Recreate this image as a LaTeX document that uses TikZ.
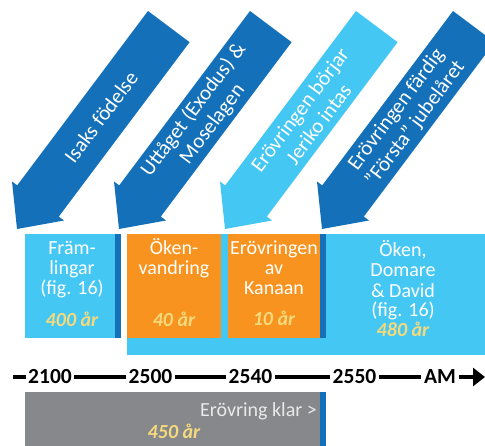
\documentclass[tikz,border=0pt]{standalone}
\usepackage{fontspec}
\setmainfont{Carlito}
\usetikzlibrary{arrows.meta}
\definecolor{dkblue}{HTML}{1470B8}
\definecolor{ltblue}{HTML}{45C7F3}
\definecolor{orng}{HTML}{F7931E}
\definecolor{gry}{HTML}{87888B}
\definecolor{gold}{HTML}{F4DA7C}
\definecolor{paleg}{HTML}{E9E9EA}
\tikzset{
  arrtext/.style={text=white, font=\fontsize{21}{23.5}\selectfont, align=center, rotate=53.13, inner sep=0pt},
  boxtext/.style={text=white, font=\fontsize{20}{20.5}\selectfont, inner sep=0pt, anchor=base},
  yrs/.style={text=gold, font=\fontsize{20}{20}\selectfont\bfseries\itshape, inner sep=0pt, anchor=base},
  tl/.style={font=\fontsize{21.5}{22}\selectfont\bfseries, inner sep=2.5pt},
  tline/.style={line width=4.5pt, black},
}
\newcommand{\bigarrow}[4]{%
  \begin{scope}[shift={#3}]
    \fill[#2] (0,0) -- (47,-8.5) -- (41.8,-12.4) -- (172.6,-186.8) -- (131,-218) -- (0.2,-43.6) -- (-5,-47.5) -- cycle;
    \node[arrtext] (#1) at (84,-112) {#4};
  \end{scope}}
\begin{document}
\begin{tikzpicture}[x=1pt,y=-1pt]
\useasboundingbox (0,0) rectangle (485,446);
\clip (0,0) rectangle (485,446);
% arrows
\bigarrow{a1}{dkblue}{(17,229)}{Isaks födelse}
\bigarrow{a2}{dkblue}{(119,229)}{Uttåget (Exodus) \&\\Moselagen}
\bigarrow{a3}{ltblue}{(225,229)}{Erövringen börjar\\Jeriko intas}
\bigarrow{a4}{dkblue}{(322,229)}{Erövringen färdig\\”Första” jubelåret}
% boxes
\fill[ltblue] (25,234) rectangle (120.6,338);
\fill[dkblue] (115,234) rectangle (120.6,338);
\fill[ltblue] (127,234) rectangle (485,355);
\fill[orng] (127,234) rectangle (221,338);
\fill[orng] (228,234) rectangle (320,338);
\fill[dkblue] (320,234) rectangle (325.5,338);
\fill[gry] (25,392.5) rectangle (320,446);
\fill[dkblue] (320,392.5) rectangle (325.5,446);
% box texts
\node[boxtext] (b1a) at (72,254.3) {Främ-};
\node[boxtext] (b1b) at (72,274.6) {lingar};
\node[boxtext] (b1c) at (72,295) {(fig. 16)};
\node[yrs] (b1y) at (72,326.7) {400 år};
\node[boxtext] (b2a) at (174,254.3) {Öken-};
\node[boxtext] (b2b) at (174,274.6) {vandring};
\node[yrs] (b2y) at (174,326.7) {40 år};
\node[boxtext] (b3a) at (274,254.3) {Erövringen};
\node[boxtext] (b3b) at (274,274.6) {av};
\node[boxtext] (b3c) at (274,295) {Kanaan};
\node[yrs] (b3y) at (274,325.5) {10 år};
\node[boxtext] (b4a) at (403,256.7) {Öken,};
\node[boxtext] (b4b) at (403,277) {Domare};
\node[boxtext] (b4c) at (403,297.3) {\& David};
\node[boxtext] (b4d) at (403,317) {(fig. 16)};
\node[yrs] (b4y) at (403,337) {480 år};
\node[boxtext, text=paleg, anchor=base east] (g1) at (317,416.7) {Erövring klar >};
\node[yrs] (g2) at (174,438.3) {450 år};
% timeline
\coordinate (tl0) at (13,377);
\node[tl] (t2100) at (50,377) {2100};
\node[tl] (t2500) at (150.5,377) {2500};
\node[tl] (t2540) at (250.5,377) {2540};
\node[tl] (t2550) at (354.5,377) {2550};
\node[tl] (tAM) at (440,377) {AM};
\coordinate (tlend) at (485,377);
\draw[tline] (tl0) -- (t2100);
\draw[tline] (t2100) -- (t2500);
\draw[tline] (t2500) -- (t2540);
\draw[tline] (t2540) -- (t2550);
\draw[tline] (t2550) -- (tAM);
\draw[tline, -{Triangle[length=12pt,width=18pt]}] (tAM) -- (tlend);
\end{tikzpicture}
\end{document}
